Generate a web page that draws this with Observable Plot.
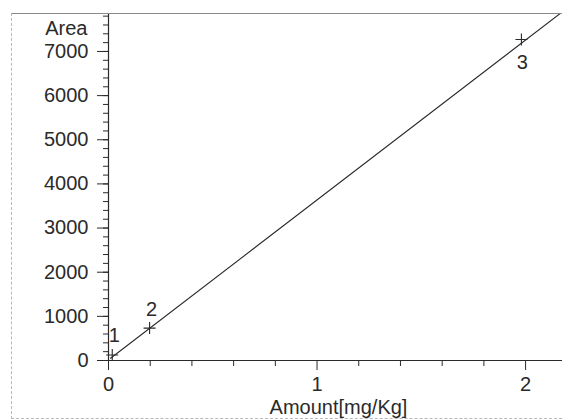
<!DOCTYPE html>
<html>
<head>
<meta charset="utf-8">
<script src="https://cdn.jsdelivr.net/npm/d3@7"></script>
<script src="https://cdn.jsdelivr.net/npm/@observablehq/plot@0.6"></script>
<style>
  body { margin: 0; background: #fff; }
  #wrap { position: relative; width: 562px; height: 420px; overflow: hidden; }
  #box {
    position: absolute; left: 11px; top: 13px; width: 560px; height: 404px;
    border-top: 1px solid #8a8a8a; border-left: 1px dashed #b8b8b8; border-bottom: 1px dashed #b8b8b8;
    pointer-events: none;
  }
</style>
</head>
<body>
<div id="wrap"><div id="box"></div></div>
<script>
// Calibration points: amount (mg/Kg) vs peak area
const pointIds = ["1", "2", "3"];
const amounts = [0.018, 0.197, 1.98];
const areas = [125, 734, 7270];

// Fitted calibration line end points
const fitAmounts = [0.01, 2.177];
const fitAreas = [50, 7900];

// Axis ticks
const yMajor = [0, 1000, 2000, 3000, 4000, 5000, 6000, 7000];
const yMinor = d3.range(0, 7801, 200);
const xMajor = [0, 1, 2];
const xMinor = [0.2, 0.4, 0.6, 0.8, 1.2, 1.4, 1.6, 1.8];

const points = pointIds.map((id, i) => ({id, x: amounts[i], y: areas[i]}));
const fit = fitAmounts.map((x, i) => ({x, y: fitAreas[i]}));

// thin "+" marker
const cross = {
  draw(context, size) {
    const r = Math.sqrt(size / Math.PI);
    context.moveTo(-r, 0); context.lineTo(r, 0);
    context.moveTo(0, -r); context.lineTo(0, r);
  }
};

const ink = "#2a2a2a";

const chart = Plot.plot({
  width: 562,
  height: 420,
  marginLeft: 108,
  marginRight: 0,
  marginTop: 13,
  marginBottom: 60,
  style: {fontFamily: "'Liberation Sans', Arial, sans-serif", fontSize: "20px", color: ink, background: "transparent"},
  x: {domain: [0, 2.177], label: null},
  y: {domain: [0, 7860], label: null},
  marks: [
    Plot.axisY(yMinor, {tickSize: 5, text: null, label: null, stroke: ink}),
    Plot.axisY(yMajor, {tickSize: 11, tickPadding: 9, tickFormat: d3.format("d"), label: null, stroke: ink, fill: ink}),
    Plot.axisX(xMinor, {tickSize: 6, text: null, label: null, stroke: ink}),
    Plot.axisX(xMajor, {tickSize: 10, tickPadding: 6, tickFormat: d3.format("d"), label: null, stroke: ink, fill: ink}),
    Plot.ruleX([0], {stroke: ink, strokeWidth: 1.2}),
    Plot.ruleY([0], {stroke: ink, strokeWidth: 1.2}),
    Plot.line(fit, {x: "x", y: "y", stroke: ink, strokeWidth: 1.1, clip: true}),
    Plot.dot(points, {x: "x", y: "y", symbol: cross, r: 6, stroke: ink, fill: "none", strokeWidth: 1.1}),
    Plot.text(points.slice(0, 2), {x: "x", y: "y", text: "id", dx: 2, dy: -19, fill: ink}),
    Plot.text(points.slice(2), {x: "x", y: "y", text: "id", dx: 1, dy: 23, fill: ink}),
    Plot.text(["Area"], {frameAnchor: "top-left", text: d => d, dx: -21, dy: 15, textAnchor: "end", lineAnchor: "middle", fill: ink}),
    Plot.text(["Amount[mg/Kg]"], {frameAnchor: "bottom", text: d => d, dx: 3, dy: 47, lineAnchor: "middle", fill: ink})
  ]
});

document.getElementById("wrap").prepend(chart);
chart.style.position = "absolute";
chart.style.left = "0";
chart.style.top = "0";
</script>
</body>
</html>
